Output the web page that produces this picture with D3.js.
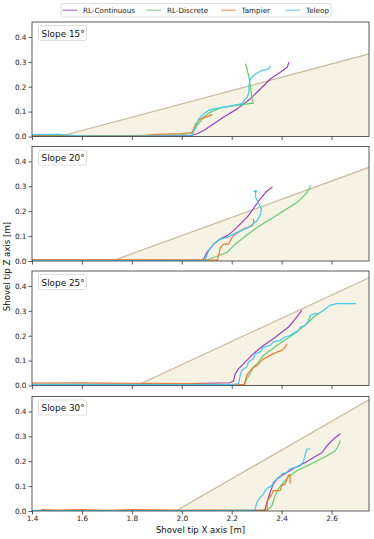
<!DOCTYPE html>
<html>
<head>
<meta charset="utf-8">
<script src="https://cdn.jsdelivr.net/npm/d3@7"></script>
<style>
  body { margin: 0; background: #fff; }
  svg { font-family: "DejaVu Sans", sans-serif; }
</style>
</head>
<body>
<div id="chart"></div>
<script>
const methods = ["RL-Continuous", "RL-Discrete", "Tampier", "Teleop"];
const colors = ["#9b3fc6", "#62cb70", "#ee7a2c", "#42c9f0"];
const slopeAngles = [15, 20, 25, 30];
const slopeStartX = [1.51, 1.72, 1.82, 1.976];
const slopeEndZ = [0.332, 0.376, 0.433, 0.447];
const xTicks = [1.4, 1.6, 1.8, 2.0, 2.2, 2.4, 2.6];
const yTicks = [0.0, 0.1, 0.2, 0.3, 0.4];

// slope 15
const cont15 = [[1.4,0.004],[1.7,0.003],[2.0,0.003],[2.035,0.004],[2.061,0.011],[2.088,0.024],[2.128,0.051],[2.168,0.078],[2.222,0.111],[2.275,0.152],[2.316,0.192],[2.356,0.232],[2.396,0.259],[2.423,0.279],[2.429,0.299]];
const disc15 = [[1.4,0.003],[1.8,0.004],[2.0,0.008],[2.041,0.012],[2.061,0.044],[2.088,0.078],[2.115,0.098],[2.155,0.115],[2.208,0.124],[2.249,0.129],[2.287,0.134],[2.282,0.15],[2.275,0.2],[2.269,0.239],[2.262,0.27],[2.255,0.293]];
const tamp15 = [[1.4,0.002],[1.6,0.002],[1.85,0.004],[1.9,0.009],[2.0,0.012],[2.04,0.016],[2.048,0.03],[2.055,0.051],[2.075,0.071],[2.102,0.08],[2.122,0.088]];
const tele15 = [[1.4,0.008],[1.5,0.009],[1.55,0.006],[1.6,0.002],[2.0,0.002],[2.044,0.002],[2.046,0.02],[2.055,0.037],[2.068,0.071],[2.088,0.091],[2.108,0.105],[2.128,0.111],[2.168,0.118],[2.208,0.125],[2.242,0.132],[2.249,0.145],[2.262,0.158],[2.269,0.178],[2.269,0.205],[2.275,0.232],[2.296,0.252],[2.322,0.266],[2.343,0.27],[2.352,0.275],[2.352,0.283]];

// slope 20
const cont20 = [[1.4,0.003],[1.8,0.003],[2.08,0.004],[2.088,0.008],[2.101,0.035],[2.128,0.068],[2.155,0.089],[2.182,0.102],[2.208,0.122],[2.235,0.149],[2.262,0.176],[2.282,0.203],[2.309,0.243],[2.336,0.276],[2.363,0.297]];
const disc20 = [[1.4,0.003],[1.8,0.003],[2.1,0.004],[2.149,0.022],[2.182,0.035],[2.208,0.062],[2.249,0.095],[2.303,0.136],[2.356,0.169],[2.41,0.203],[2.463,0.236],[2.503,0.276],[2.516,0.303]];
const tamp20 = [[1.4,0.005],[1.8,0.005],[2.14,0.004],[2.143,0.0],[2.145,0.015],[2.149,0.028],[2.155,0.055],[2.168,0.068],[2.188,0.068],[2.195,0.082],[2.202,0.095],[2.215,0.109],[2.249,0.129],[2.282,0.142],[2.289,0.156],[2.286,0.169]];
const tele20 = [[1.4,0.002],[1.8,0.002],[2.09,0.002],[2.095,0.008],[2.108,0.042],[2.128,0.068],[2.155,0.089],[2.182,0.095],[2.222,0.115],[2.269,0.136],[2.303,0.163],[2.316,0.189],[2.319,0.209],[2.309,0.229],[2.296,0.256],[2.296,0.283],[2.29,0.279],[2.302,0.281]];

// slope 25
const cont25 = [[1.4,0.005],[1.8,0.006],[2.0,0.007],[2.19,0.011],[2.207,0.017],[2.214,0.047],[2.227,0.067],[2.254,0.094],[2.287,0.128],[2.327,0.161],[2.367,0.188],[2.401,0.215],[2.428,0.235],[2.455,0.268],[2.481,0.302]];
const disc25 = [[1.4,0.005],[1.9,0.005],[2.25,0.004],[2.254,0.007],[2.26,0.027],[2.274,0.047],[2.287,0.074],[2.307,0.094],[2.327,0.121],[2.354,0.141],[2.381,0.161],[2.421,0.188],[2.461,0.215],[2.501,0.248],[2.528,0.275],[2.548,0.289]];
const tamp25 = [[1.4,0.01],[1.6,0.011],[1.8,0.009],[2.0,0.008],[2.24,0.004],[2.25,0.002],[2.26,0.04],[2.274,0.06],[2.287,0.074],[2.301,0.08],[2.314,0.094],[2.327,0.107],[2.354,0.121],[2.381,0.134],[2.401,0.141],[2.414,0.154],[2.421,0.168]];
const tele25 = [[1.4,0.004],[1.8,0.004],[2.2,0.004],[2.227,0.007],[2.234,0.04],[2.24,0.06],[2.26,0.074],[2.267,0.094],[2.287,0.107],[2.294,0.128],[2.314,0.134],[2.327,0.154],[2.354,0.161],[2.367,0.175],[2.394,0.181],[2.414,0.195],[2.434,0.201],[2.455,0.215],[2.468,0.221],[2.475,0.235],[2.495,0.241],[2.508,0.262],[2.515,0.282],[2.535,0.289],[2.548,0.289],[2.568,0.302],[2.594,0.322],[2.621,0.329],[2.698,0.329]];

// slope 30
const cont30 = [[1.4,0.002],[1.8,0.002],[2.33,0.003],[2.334,0.008],[2.341,0.035],[2.354,0.075],[2.367,0.109],[2.387,0.135],[2.421,0.155],[2.455,0.175],[2.495,0.195],[2.528,0.215],[2.562,0.235],[2.582,0.263],[2.609,0.29],[2.635,0.31]];
const disc30 = [[1.4,0.002],[1.8,0.002],[2.34,0.003],[2.347,0.008],[2.361,0.021],[2.374,0.062],[2.387,0.089],[2.407,0.115],[2.434,0.142],[2.461,0.162],[2.501,0.181],[2.541,0.201],[2.582,0.222],[2.615,0.242],[2.628,0.263],[2.635,0.283]];
const tamp30 = [[1.435,0.006],[1.5,0.004],[1.6,0.006],[1.7,0.003],[1.8,0.006],[1.9,0.005],[2.0,0.003],[2.1,0.004],[2.3,0.002],[2.341,0.004],[2.343,0.041],[2.361,0.068],[2.367,0.082],[2.394,0.082],[2.401,0.102],[2.414,0.109],[2.421,0.129],[2.428,0.145],[2.434,0.145],[2.434,0.11]];
const tele30 = [[1.4,0.002],[1.8,0.002],[2.29,0.002],[2.294,0.008],[2.301,0.035],[2.314,0.055],[2.327,0.068],[2.334,0.082],[2.347,0.095],[2.361,0.102],[2.367,0.115],[2.381,0.129],[2.394,0.135],[2.401,0.149],[2.421,0.155],[2.434,0.169],[2.455,0.175],[2.475,0.181],[2.488,0.201],[2.495,0.229],[2.502,0.249],[2.515,0.249]];

const panelSeries = [
  [cont15, disc15, tamp15, tele15],
  [cont20, disc20, tamp20, tele20],
  [cont25, disc25, tamp25, tele25],
  [cont30, disc30, tamp30, tele30]
];

const W = 374, H = 539;
const left = 32, right = 369;
const panelTops = [22, 146.5, 271, 396.5];
const panelH = 114.5;

const svg = d3.select("#chart").append("svg")
    .attr("width", W).attr("height", H);

const x = d3.scaleLinear().domain([1.4, 2.75]).range([left, right]);

panelSeries.forEach((series, i) => {
    const top = panelTops[i];
    const y = d3.scaleLinear().domain([0, 0.46]).range([top + panelH, top]);
    const g = svg.append("g");

    g.append("defs").append("clipPath").attr("id", "clip" + i)
        .append("rect").attr("x", left).attr("y", top)
        .attr("width", right - left).attr("height", panelH);

    const line = d3.line().x(d => x(d[0])).y(d => y(d[1]));

    // slope ground
    g.append("path")
        .datum([[slopeStartX[i], 0], [2.75, slopeEndZ[i]], [2.75, 0]])
        .attr("fill", "#f7f3e4")
        .attr("d", line);
    g.append("path")
        .datum([[slopeStartX[i], 0], [2.75, slopeEndZ[i]]])
        .attr("fill", "none")
        .attr("stroke", "#c8b898")
        .attr("stroke-width", 1.2)
        .attr("d", line);

    series.forEach((pts, k) => {
        g.append("path")
            .datum(pts)
            .attr("clip-path", `url(#clip${i})`)
            .attr("fill", "none")
            .attr("stroke", colors[k])
            .attr("stroke-width", 1.2)
            .attr("stroke-linejoin", "round")
            .attr("d", line);
    });

    // axes
    const xAxis = g.append("g")
        .attr("transform", `translate(0,${top + panelH})`)
        .call(d3.axisBottom(x).tickValues(xTicks).tickSize(3.5).tickPadding(1.5)
            .tickFormat(i === 3 ? d3.format(".1f") : ""));
    const yAxis = g.append("g")
        .attr("transform", `translate(${left},0)`)
        .call(d3.axisLeft(y).tickValues(yTicks).tickSize(3.5).tickPadding(2)
            .tickFormat(d3.format(".1f")));
    [xAxis, yAxis].forEach(a => {
        a.select(".domain").remove();
        a.selectAll("line").attr("stroke", "#333").attr("stroke-width", 0.8);
        a.selectAll("text").attr("font-size", 7.3).attr("fill", "#222")
            .attr("font-family", "DejaVu Sans");
    });

    g.append("rect")
        .attr("x", left).attr("y", top)
        .attr("width", right - left).attr("height", panelH)
        .attr("fill", "none").attr("stroke", "#333").attr("stroke-width", 0.8);

    // slope label
    g.append("rect")
        .attr("x", 38.5).attr("y", top + 3.5)
        .attr("width", 48).attr("height", 15).attr("rx", 2)
        .attr("fill", "#fff").attr("fill-opacity", 0.85)
        .attr("stroke", "#d5d5d5").attr("stroke-width", 0.8);
    g.append("text")
        .attr("x", 41.5).attr("y", top + 14.5)
        .attr("font-size", 8.9).attr("fill", "#111")
        .text(`Slope ${slopeAngles[i]}°`);
});

// legend
const legend = svg.append("g");
legend.append("rect")
    .attr("x", 61).attr("y", 3.5).attr("width", 270).attr("height", 13.5).attr("rx", 2)
    .attr("fill", "#fff").attr("stroke", "#d5d5d5").attr("stroke-width", 0.8);
const legX = [62.5, 146.5, 221, 285.5];
methods.forEach((m, k) => {
    legend.append("line")
        .attr("x1", legX[k]).attr("x2", legX[k] + 14.5)
        .attr("y1", 10.2).attr("y2", 10.2)
        .attr("stroke", colors[k]).attr("stroke-width", 1.2).attr("opacity", 0.75);
    legend.append("text")
        .attr("x", legX[k] + 20.5).attr("y", 12.8)
        .attr("font-size", 7.2).attr("fill", "#222")
        .text(m);
});

svg.append("text")
    .attr("x", (left + right) / 2).attr("y", 533)
    .attr("text-anchor", "middle").attr("font-size", 8.6).attr("fill", "#111")
    .text("Shovel tip X axis [m]");
svg.append("text")
    .attr("transform", `translate(10,${(22 + 511) / 2}) rotate(-90)`)
    .attr("text-anchor", "middle").attr("font-size", 8.6).attr("fill", "#111")
    .text("Shovel tip Z axis [m]");
</script>
</body>
</html>
